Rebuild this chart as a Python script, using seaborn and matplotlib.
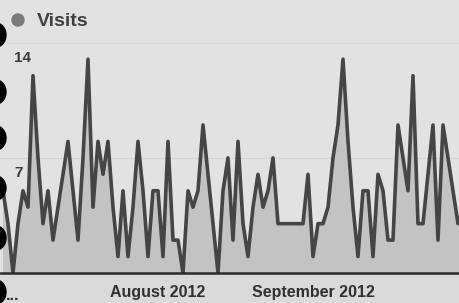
import matplotlib
matplotlib.use("Agg")
import matplotlib.pyplot as plt
from matplotlib.patches import Ellipse
import seaborn as sns
import pandas as pd

# daily visits, 1 Jul 2012 .. 1 Oct 2012
start_date = "2012-07-01"
visits = [5, 3, 0, 3, 5, 4, 12, 7, 3, 5, 2, 4, 6, 8, 5, 2, 7, 13, 4, 8,
          6, 8, 4, 1, 5, 1, 4, 8, 5, 1, 5, 5, 1, 8, 2, 2, 0, 5, 4, 5,
          9, 6, 3, 0, 5, 7, 2, 8, 3, 1, 4, 6, 4, 5, 7, 3, 3, 3, 3, 3,
          3, 6, 1, 3, 3, 4, 7, 9, 13, 8, 4, 1, 5, 5, 1, 6, 5, 2, 2, 9,
          7, 5, 12, 3, 3, 6, 9, 2, 9, 7, 5, 3, 4]
month_ticks = ["2012-08-01", "2012-09-01"]
month_labels = ["August 2012", "September 2012"]
y_ticks = [7, 14]
series_name = "Visits"

df = pd.DataFrame({"date": pd.date_range(start_date, periods=len(visits), freq="D"),
                   "visits": visits})

sns.set_theme(style="white")
plt.rcParams['font.family'] = ['Liberation Sans', 'DejaVu Sans']

W, H = 460, 303
fig = plt.figure(figsize=(W / 100, H / 100), dpi=100, facecolor="#dadada")
ax = fig.add_axes([0, 30 / H, 1, 273 / H])
ax.set_facecolor("#e2e2e2")

ax.fill_between(df["date"], df["visits"], color="#c3c3c3", lw=0, zorder=1)
sns.lineplot(data=df, x="date", y="visits", ax=ax, color="#454545", lw=2.6, zorder=3)

t0 = df["date"].iloc[0]
ax.set_xlim(t0 - pd.Timedelta(days=0.6), t0 + pd.Timedelta(days=91.4))
ax.set_ylim(0, 16.6)

for v in y_ticks:
    ax.axhline(v, color="#d5d5d5", lw=0.8, zorder=0)
    ax.annotate(str(v), xy=(0, v), xycoords=("axes fraction", "data"),
                xytext=(10, -11), textcoords="offset points",
                ha="left", va="center", fontsize=11, fontweight="bold", color="#3a3a3a")

ax.axhline(0, color="#2a2a2a", lw=1.8, zorder=4, clip_on=False)

ax.set_xticks(pd.to_datetime(month_ticks))
ax.set_xticklabels(month_labels, fontsize=11.5, fontweight="bold", color="#303030")
ax.set_yticks([])
ax.tick_params(axis="x", length=0, pad=9)
ax.set_xlabel("")
ax.set_ylabel("")
for s in ax.spines.values():
    s.set_visible(False)

# truncated July label
fig.text(6 / W, 1 - 295 / H, "...", fontsize=11.5, fontweight="bold", color="#303030",
         ha="left", va="center")

# legend
fig.patches.append(Ellipse((18 / W, 1 - 20 / H), 12 / W, 12 / H, transform=fig.transFigure,
                           color="#7a7a7a", zorder=5))
fig.text(37 / W, 1 - 21 / H, series_name, fontsize=14, fontweight="bold", color="#404040",
         ha="left", va="center")

# binder rings on the left edge of the photo
for cy in [35, 92, 138, 188, 238, 292]:
    fig.patches.append(Ellipse((-4 / W, 1 - cy / H), 20 / W, 24 / H,
                               transform=fig.transFigure, color="black", zorder=10))

fig.savefig("out.png", dpi=100, facecolor=fig.get_facecolor())
